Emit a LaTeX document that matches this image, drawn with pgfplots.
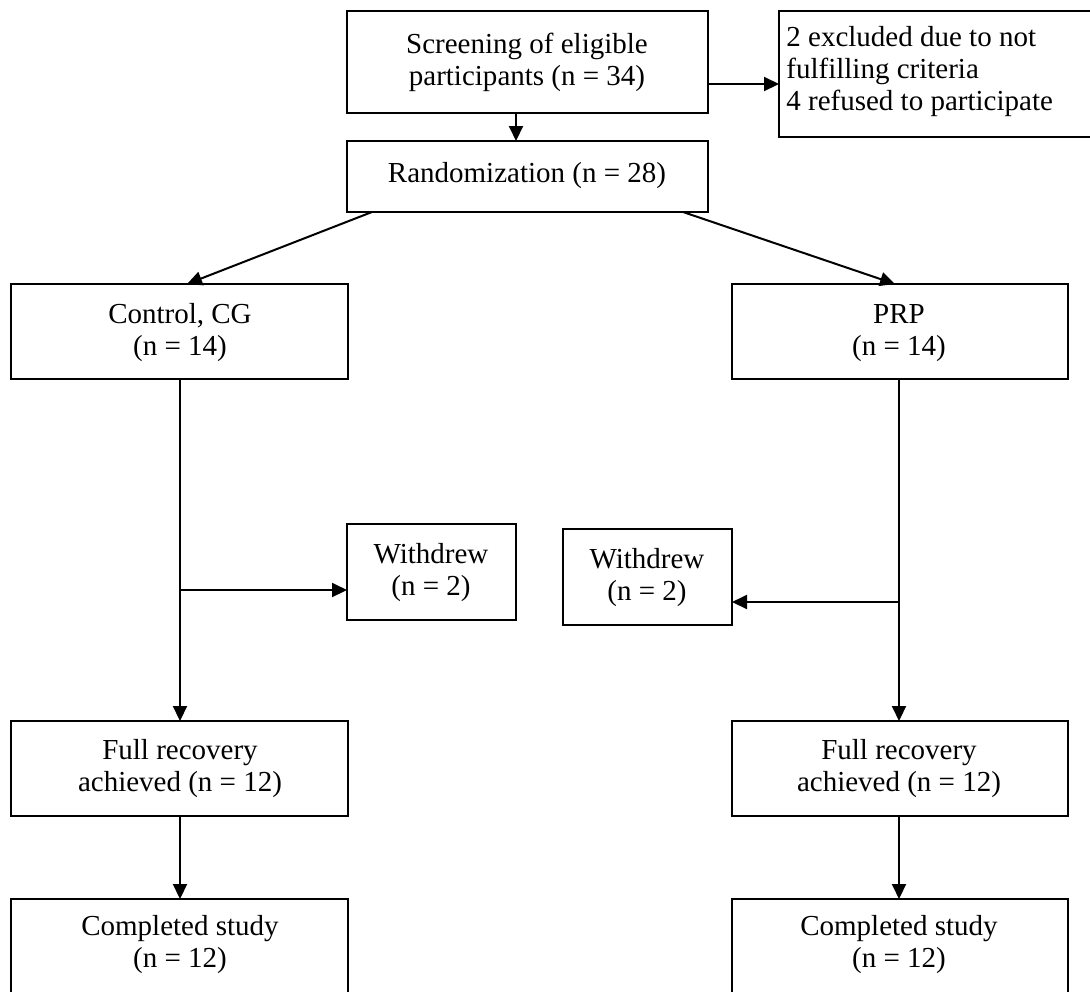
\documentclass[border=0pt]{standalone}
\usepackage{pgfplots}
\pgfplotsset{compat=1.18}
\usetikzlibrary{arrows.meta}
\usepackage{fontspec}
\setmainfont{Liberation Serif}

\begin{document}
\begin{tikzpicture}[
    ln/.style={black, line width=1pt, mark=none, line join=miter, solid},
    arr/.style={ln, -{Triangle[length=7.5pt,width=7pt]}},
    lbl/.style={font=\fontsize{14.5}{16}\selectfont, align=center, inner sep=0pt},
  ]
  % one axis unit = one pixel of the reference (0.5pt), y runs downwards
  \begin{axis}[
    width=545pt, height=495.5pt,
    scale only axis,
    xmin=0, xmax=1090,
    ymin=0, ymax=991,
    y dir=reverse,
    hide axis,
  ]
    % boxes
    \addplot[ln] coordinates {(347,11) (708,11) (708,113) (347,113)} --cycle;   % screening
    \addplot[ln] coordinates {(1092,11) (779,11) (779,137) (1092,137)};         % excluded (runs off the right)
    \addplot[ln] coordinates {(347,141) (708,141) (708,212) (347,212)} --cycle; % randomization
    \addplot[ln] coordinates {(11,284) (348,284) (348,379) (11,379)} --cycle;   % control
    \addplot[ln] coordinates {(732,284) (1068,284) (1068,379) (732,379)} --cycle; % PRP
    \addplot[ln] coordinates {(347,524) (516,524) (516,620) (347,620)} --cycle; % withdrew left
    \addplot[ln] coordinates {(563,529) (732,529) (732,625) (563,625)} --cycle; % withdrew right
    \addplot[ln] coordinates {(11,721) (348,721) (348,816) (11,816)} --cycle;   % full recovery left
    \addplot[ln] coordinates {(732,721) (1068,721) (1068,816) (732,816)} --cycle; % full recovery right
    \addplot[ln] coordinates {(11,993) (11,899) (348,899) (348,993)};           % completed left
    \addplot[ln] coordinates {(732,993) (732,899) (1068,899) (1068,993)};       % completed right

    % arrows
    \addplot[arr] coordinates {(708,84) (779,84)};
    \addplot[arr] coordinates {(516,113) (516,141)};
    \addplot[arr] coordinates {(372,212) (187,284)};
    \addplot[arr] coordinates {(683,212) (895,284)};
    \addplot[arr] coordinates {(180,379) (180,721)};
    \addplot[arr] coordinates {(180,590) (347,590)};
    \addplot[arr] coordinates {(899,379) (899,721)};
    \addplot[arr] coordinates {(899,602) (732,602)};
    \addplot[arr] coordinates {(180,816) (180,899)};
    \addplot[arr] coordinates {(899,816) (899,899)};

    % labels
    \node[lbl] at (axis cs:527,62) {Screening of eligible\\participants (n = 34)};
    \node[lbl, align=left, anchor=west] at (axis cs:786,72) {2 excluded due to not\\fulfilling criteria\\4 refused to participate};
    \node[lbl] at (axis cs:527,176) {Randomization (n = 28)};
    \node[lbl] at (axis cs:180,333) {Control, CG\\(n = 14)};
    \node[lbl] at (axis cs:899,333) {PRP\\(n = 14)};
    \node[lbl] at (axis cs:431,573) {Withdrew\\(n = 2)};
    \node[lbl] at (axis cs:647,578) {Withdrew\\(n = 2)};
    \node[lbl] at (axis cs:180,769) {Full recovery\\achieved (n = 12)};
    \node[lbl] at (axis cs:899,769) {Full recovery\\achieved (n = 12)};
    \node[lbl] at (axis cs:180,945) {Completed study\\(n = 12)};
    \node[lbl] at (axis cs:899,945) {Completed study\\(n = 12)};
  \end{axis}
  \pgfresetboundingbox
  \path[use as bounding box] (current axis.south west) rectangle (current axis.north east);
\end{tikzpicture}
\end{document}
